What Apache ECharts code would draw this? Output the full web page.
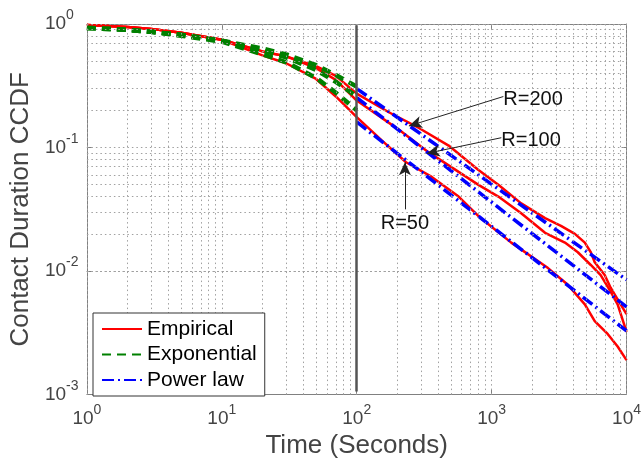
<!DOCTYPE html>
<html><head><meta charset="utf-8">
<script src="https://cdn.jsdelivr.net/npm/echarts@6/dist/echarts.min.js"></script>
<style>html,body{margin:0;padding:0;background:#fff}#c{width:644px;height:464px}</style>
</head><body><div id="c"></div>
<script>
// ---- data (time in seconds, CCDF) ----
const timeEarly = [1, 2, 3, 5, 10, 20, 30, 50, 70, 100];
const empR200Early = [0.982, 0.947, 0.913, 0.848, 0.746, 0.600, 0.547, 0.456, 0.380, 0.273];
const empR100Early = [0.982, 0.947, 0.913, 0.848, 0.746, 0.600, 0.547, 0.439, 0.353, 0.240];
const empR50Early  = [0.982, 0.947, 0.913, 0.848, 0.746, 0.557, 0.481, 0.359, 0.259, 0.176];

const empR200LateT = [173, 289, 480, 799, 1121, 1656, 2489, 3265, 4139, 4907, 5432, 5810, 6888, 7623, 8589, 10000];
const empR200Late  = [0.193, 0.144, 0.1037, 0.0657, 0.0499, 0.0353, 0.0268, 0.0232, 0.0200, 0.0170, 0.0142, 0.0118, 0.00929, 0.00733, 0.00589, 0.00448];
const empR100LateT = [206, 342, 799, 1121, 1656, 2489, 3493, 4355, 5432, 6431, 7623, 8589, 10000];
const empR100Late  = [0.139, 0.0913, 0.0499, 0.0401, 0.0294, 0.0204, 0.0170, 0.0142, 0.0112, 0.00929, 0.00681, 0.00537, 0.00322];
const empR50LateT  = [154, 232, 360, 569, 799, 1397, 2618, 3674, 4907, 5810, 7245, 8589, 10000];
const empR50Late   = [0.1137, 0.0760, 0.0578, 0.0401, 0.0278, 0.0170, 0.01057, 0.00774, 0.00537, 0.00394, 0.00310, 0.00245, 0.00190];

const expR200 = [0.930, 0.896, 0.864, 0.818, 0.733, 0.633, 0.568, 0.464, 0.387, 0.311];
const expR100 = [0.930, 0.896, 0.864, 0.818, 0.733, 0.611, 0.537, 0.424, 0.340, 0.259];
const expR50  = [0.930, 0.896, 0.864, 0.803, 0.720, 0.568, 0.490, 0.366, 0.278, 0.200];

const powT    = [100, 10000];
const powR200 = [0.300, 0.0085];
const powR100 = [0.254, 0.00513];
const powR50  = [0.161, 0.00328];

const xTickExponents = [0, 1, 2, 3, 4];
const yTickExponents = [-3, -2, -1, 0];
const splitTime = 100;

// annotations: [label, arrowStart(x,y), arrowTip(x,y), textAnchor(x,y), labelPosition]
const annotations = [
  ['R=200', [1221, 0.2587], [243.6, 0.1495], [1221, 0.245], 'right'],
  ['R=100', [1180, 0.1201], [330.6, 0.0896], [1180, 0.115], 'right'],
  ['R=50',  [227.7, 0.0316], [227.7, 0.0760], [227.7, 0.0245], 'inside']
];

// ---- build ----
const zip = (xs, ys) => xs.map((x, i) => [x, ys[i]]);
const FONT = 'Liberation Sans, Arial, sans-serif';
const RED = '#ff0000', GREEN = '#008000', BLUE = '#0000ff';

const expFmt = v => {
  const e = Math.round(Math.log10(v));
  return '{b|10}{s|' + (e < 0 ? '-' + (-e) : e) + '}';
};
const richLab = {
  b: {fontSize: 19, fontFamily: FONT, color: '#444', lineHeight: 25, verticalAlign: 'bottom'},
  s: {fontSize: 14, fontFamily: FONT, color: '#444', lineHeight: 25, verticalAlign: 'top'}
};

// gridlines at 1..9 x 10^k
const xGrid = [], yGrid = [];
for (let k = 0; k < 4; k++) for (let m = 1; m <= 9; m++) xGrid.push(m * Math.pow(10, k));
xGrid.push(10000);
for (let k = -3; k < 0; k++) for (let m = 1; m <= 9; m++) yGrid.push(m * Math.pow(10, k));
yGrid.push(1);

const empStyle = {color: RED, width: 2.5, type: 'solid'};
const expStyle = {color: GREEN, width: 4.5, type: [9, 6]};
const powStyle = {color: BLUE, width: 3.5, type: [12, 4, 2, 4]};
const mk = (name, data, ls) => ({
  name, type: 'line', data, showSymbol: false, symbol: 'none',
  lineStyle: ls, itemStyle: {color: ls.color}, z: 3, silent: true
});

const series = [
  {
    name: '_grid', type: 'line', data: [[1, 1]], showSymbol: false, symbol: 'none',
    lineStyle: {width: 0}, z: 1, silent: true,
    markLine: {
      silent: true, symbol: 'none', label: {show: false}, animation: false,
      lineStyle: {color: '#a0a0a0', width: 1, type: [1.5, 3]},
      data: xGrid.map(v => ({xAxis: v})).concat(yGrid.map(v => ({yAxis: v})))
    }
  },
  {
    name: '_split', type: 'line', data: [[1, 1]], showSymbol: false, symbol: 'none',
    lineStyle: {width: 0}, z: 2, silent: true,
    markLine: {
      silent: true, symbol: 'none', label: {show: false}, animation: false,
      lineStyle: {color: '#555', width: 2.5, type: 'solid'},
      data: [[{coord: [splitTime, 0.975]}, {coord: [splitTime, 0.00106]}]]
    }
  },
  mk('Empirical', zip(timeEarly, empR200Early).concat(zip(empR200LateT, empR200Late)), empStyle),
  mk('Empirical', zip(timeEarly, empR100Early).concat(zip(empR100LateT, empR100Late)), empStyle),
  mk('Empirical', zip(timeEarly, empR50Early).concat(zip(empR50LateT, empR50Late)), empStyle),
  mk('Exponential', zip(timeEarly, expR200), expStyle),
  mk('Exponential', zip(timeEarly, expR100), expStyle),
  mk('Exponential', zip(timeEarly, expR50), expStyle),
  mk('Power law', zip(powT, powR200), powStyle),
  mk('Power law', zip(powT, powR100), powStyle),
  mk('Power law', zip(powT, powR50), powStyle),
  {
    name: '_annot', type: 'line', data: [[1, 1]], showSymbol: false, symbol: 'none',
    lineStyle: {width: 0}, z: 5, silent: true,
    markLine: {
      silent: true, symbol: ['none', 'arrow'], symbolSize: [9, 13], label: {show: false}, animation: false,
      lineStyle: {color: '#222', width: 1, type: 'solid'},
      data: annotations.map(a => [{coord: a[1]}, {coord: a[2]}])
    },
    markPoint: {
      silent: true, symbol: 'circle', symbolSize: 0, animation: false,
      data: annotations.map(a => ({
        coord: a[3],
        label: {show: true, formatter: a[0], position: a[4], distance: 0,
          fontSize: 20, fontFamily: FONT, color: '#111'}
      }))
    }
  }
];

const axisLineStyle = {lineStyle: {color: '#808080', width: 1}};
const tickStyle = {show: true, inside: true, length: 5, lineStyle: {color: '#808080'}};

const option = {
  animation: false,
  backgroundColor: '#fff',
  grid: {left: 86, right: 15, top: 24, bottom: 62, containLabel: false},
  legend: {
    data: ['Empirical', 'Exponential', 'Power law'],
    orient: 'vertical', left: 93, top: 313,
    itemWidth: 40, itemHeight: 2, itemGap: 3.5,
    padding: [5, 8, 5, 8],
    itemStyle: {opacity: 0},
    backgroundColor: '#fff', borderColor: '#333', borderWidth: 1, borderRadius: 0,
    textStyle: {fontSize: 21, fontFamily: FONT, color: '#000', lineHeight: 22},
    selectedMode: false, z: 10
  },
  xAxis: [
    {
      type: 'log', logBase: 10, min: 1, max: 10000, position: 'bottom',
      name: 'Time (Seconds)', nameLocation: 'middle', nameGap: 32,
      nameTextStyle: {fontSize: 26, fontFamily: FONT, color: '#444'},
      axisLine: axisLineStyle, axisTick: tickStyle,
      axisLabel: {formatter: expFmt, rich: richLab, margin: 8.5},
      splitLine: {show: false}
    },
    {
      type: 'log', logBase: 10, min: 1, max: 10000, position: 'top',
      axisLine: axisLineStyle, axisTick: tickStyle, axisLabel: {show: false}, splitLine: {show: false}
    }
  ],
  yAxis: [
    {
      type: 'log', logBase: 10, min: 0.001, max: 1, position: 'left',
      name: 'Contact Duration CCDF', nameLocation: 'middle', nameGap: 48, nameRotate: 90,
      nameTextStyle: {fontSize: 26, fontFamily: FONT, color: '#444'},
      axisLine: axisLineStyle, axisTick: tickStyle,
      axisLabel: {formatter: expFmt, rich: richLab, margin: 42, align: 'left', padding: [0, 0, 6, 0]},
      splitLine: {show: false}
    },
    {
      type: 'log', logBase: 10, min: 0.001, max: 1, position: 'right',
      axisLine: axisLineStyle, axisTick: tickStyle, axisLabel: {show: false}, splitLine: {show: false}
    }
  ],
  series
};

const chart = echarts.init(document.getElementById('c'), null, {renderer: 'canvas'});
chart.setOption(option);
</script>
</body></html>
